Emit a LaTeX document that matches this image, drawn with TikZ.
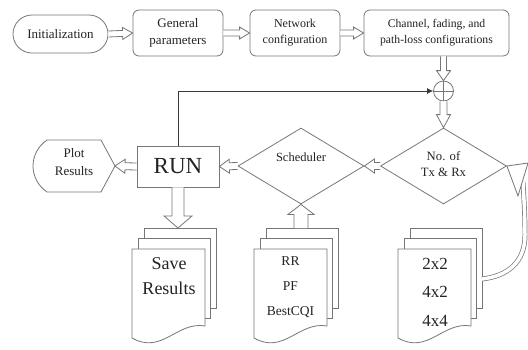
\documentclass[tikz,border=0pt]{standalone}
\usepackage{fontspec}
\setmainfont{Liberation Serif}
\usetikzlibrary{calc,shapes.geometric,arrows.meta}

\definecolor{linegray}{RGB}{118,118,118}
\definecolor{ink}{RGB}{35,35,35}

\tikzset{
  every node/.style={text=ink},
  box/.style={draw=linegray, line width=0.8pt, fill=white, rounded corners=6pt,
              align=center, inner sep=0pt},
  dia/.style={draw=linegray, line width=0.8pt, diamond, inner sep=0pt,
              minimum width=126pt, minimum height=76pt},
  hollow/.style={draw=linegray, line width=0.8pt, fill=white, line join=miter},
  sheet/.style={draw=linegray, line width=0.8pt, fill=white},
  feedback/.style={draw=ink!90, line width=0.8pt, -{Latex[length=6pt,width=6pt]}},
  bent/.style={draw=linegray, line width=0.7pt, double=white, double distance=3.5pt},
  txt/.style={align=center, inner sep=0pt}
}

% block arrow outline: #1 shaft half-width, #2 head half-width, #3 head length,
% #4 start point, #5 tip
\newcommand{\harrow}[5]{%
  \path (#4) coordinate (hS) (#5) coordinate (hE);
  \path ($(hE)!#3!(hS)$) coordinate (hB);
  \draw[hollow] ($(hS)!#1!90:(hE)$) -- ($(hB)!#1!90:(hE)$) -- ($(hB)!#2!90:(hE)$)
    -- (hE) -- ($(hB)!#2!-90:(hE)$) -- ($(hB)!#1!-90:(hE)$) -- ($(hS)!#1!-90:(hE)$);
}

% stack of three sheets: #1 name, #2 left x, #3 top y of the front sheet
\newcommand{\sheetstack}[3]{%
  \begin{scope}[shift={(#2,#3)}]
    \draw[sheet] (12,-21) rectangle ++(72,80);
    \draw[sheet] (6,-10.5) rectangle ++(72,80);
    \draw[sheet] (0,0) -- (73,0) -- (73,77) .. controls (45,72) and (30,106) .. (0,89) -- cycle;
    \coordinate (#1-top) at (48,-21);
    \coordinate (#1-right) at (84,30);
  \end{scope}}

\begin{document}
\begin{tikzpicture}[x=1pt, y=-1pt]
\useasboundingbox (0,0) rectangle (528,349);

% top row
\node[box, rounded corners=19pt, minimum width=95pt, minimum height=38pt,
      font=\fontsize{13}{16}\selectfont] (init) at (60.5,34) {Initialization};
\node[box, minimum width=90pt, minimum height=46pt,
      font=\fontsize{13}{17}\selectfont] (gen) at (178,33) {General\\parameters};
\node[box, minimum width=90pt, minimum height=46pt,
      font=\fontsize{12}{16}\selectfont] (net) at (295,33) {Network\\configuration};
\node[box, minimum width=145pt, minimum height=46pt,
      font=\fontsize{11.7}{16}\selectfont] (chan) at (436.5,33) {Channel, fading, and\\path-loss configurations};

% summing junction
\node[draw=linegray, line width=0.8pt, circle, minimum size=20pt, inner sep=0pt] (sum) at (443.5,91) {};
\draw[linegray, line width=0.8pt] (sum.north) -- (sum.south) (sum.west) -- (sum.east);

% decisions
\node[dia] (ntx) at (443.5,166) {};
\node[txt, font=\fontsize{12.7}{15.5}\selectfont] at (443.5,164) {No. of\\Tx \& Rx};
\node[dia] (sched) at (301,166) {};
\node[txt, font=\fontsize{12.5}{15}\selectfont] at (301,157) {Scheduler};

% run block
\node[box, rounded corners=0pt, minimum width=82pt, minimum height=41pt,
      font=\fontsize{23}{26}\selectfont] (run) at (178,166.5) {RUN};

% display shape for plotting
\coordinate (ptip) at (115,166);
\draw[sheet] (47,140) -- (101,140) -- (ptip) -- (101,192) -- (47,192)
  .. controls (38,186) and (33,176) .. (33,166)
  .. controls (33,156) and (38,146) .. (47,140) -- cycle;
\node[txt, font=\fontsize{13}{18}\selectfont] (plot) at (74,162) {Plot\\Results};

% sheet stacks
\sheetstack{save}{132}{249}
\node[txt, font=\fontsize{18}{25}\selectfont] (savetxt) at (169,276) {Save\\Results};
\sheetstack{alg}{254}{249}
\node[txt, font=\fontsize{13.5}{25}\selectfont] (algtxt) at (290.5,287) {RR\\PF\\BestCQI};
\sheetstack{ant}{398}{249}
\node[txt, font=\fontsize{17}{28.5}\selectfont] (anttxt) at (435,292) {2x2\\4x2\\4x4};

% block arrows
\harrow{3pt}{6pt}{10pt}{init.east}{gen.west}
\harrow{3pt}{6pt}{10pt}{gen.east}{net.west}
\harrow{3pt}{6pt}{10pt}{net.east}{chan.west}
\harrow{3pt}{7pt}{10pt}{sum |- chan.south}{sum.north}
\harrow{3.5pt}{7pt}{13pt}{sum.south}{ntx.north}
\harrow{3.5pt}{7pt}{10pt}{ntx.west}{sched.east}
\harrow{3.5pt}{7pt}{10pt}{sched.west}{run.east}
\harrow{3.5pt}{7pt}{10pt}{run.west}{ptip}
\harrow{6pt}{14pt}{12pt}{run.south}{run.south |- save-top}
\harrow{7pt}{13pt}{10pt}{sched.south |- alg-top}{sched.south}

% feedback loop into the junction
\draw[feedback] (run.north) |- (sum.west);

% curved block arrow from the antenna sheets back to the decision
\coordinate (bend) at (523,182);
\draw[bent] (ant-right) .. controls (508,276) and (525,262) .. (525,235)
  .. controls (525,215) and (524,200) .. (bend);
\draw[hollow] (ntx.east) -- (528,163) -- (518,196) -- cycle;
\end{tikzpicture}
\end{document}
